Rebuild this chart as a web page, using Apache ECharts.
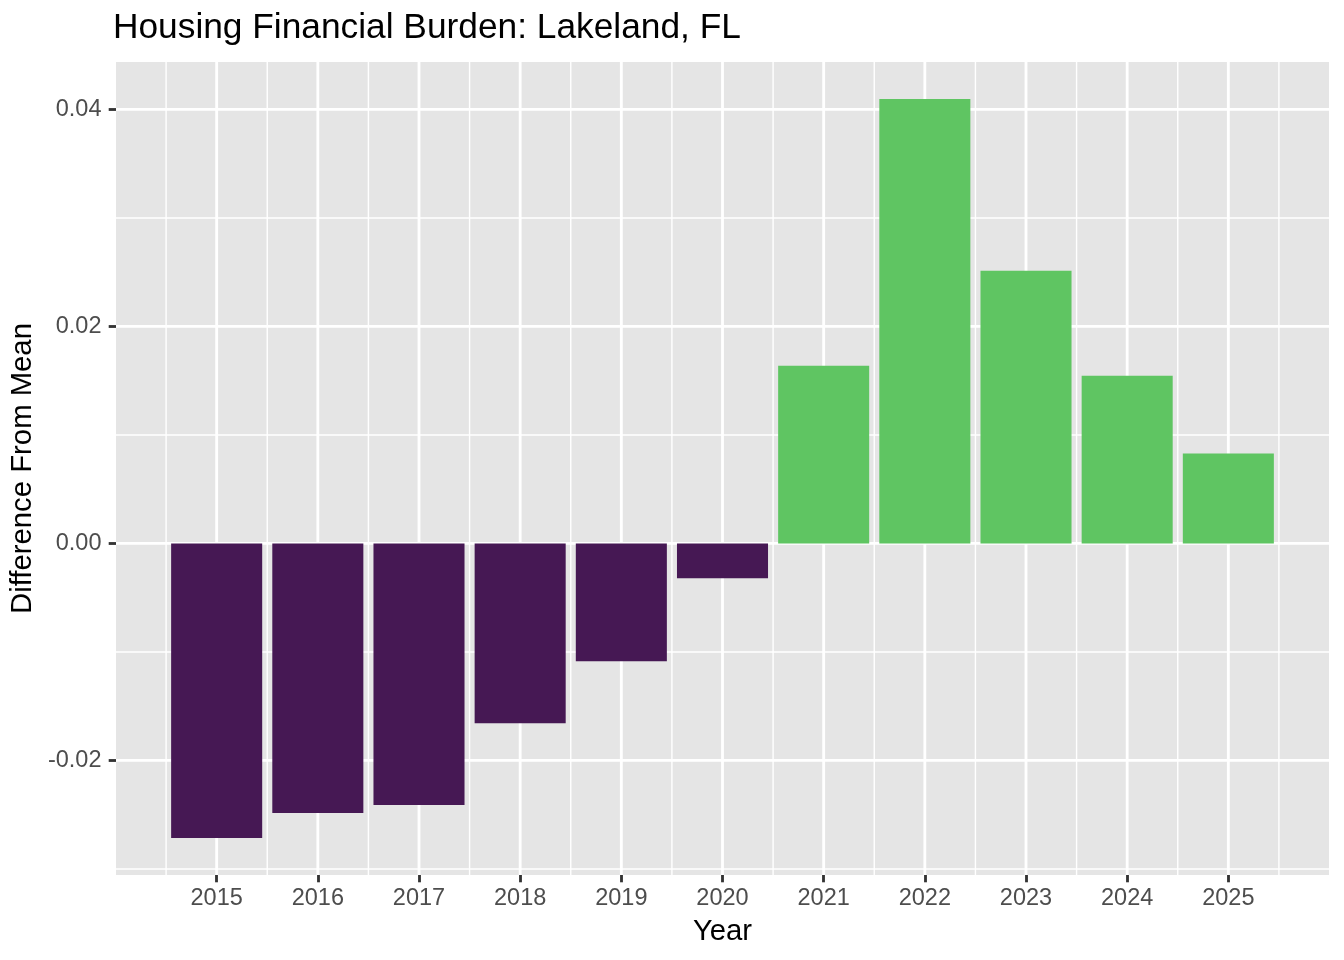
<!DOCTYPE html>
<html>
<head>
<meta charset="utf-8">
<script src="https://cdn.jsdelivr.net/npm/echarts@6/dist/echarts.min.js"></script>
<style>
html,body{margin:0;padding:0;background:#fff;}
#chart{width:1344px;height:960px;}
</style>
</head>
<body>
<div id="chart"></div>
<script>
// ---- data ----
const years = [2015, 2016, 2017, 2018, 2019, 2020, 2021, 2022, 2023, 2024, 2025];
const values = [-0.02715, -0.02485, -0.02411, -0.01657, -0.01086, -0.00322, 0.01638, 0.04096, 0.02513, 0.01546, 0.00828];
const yTickValues = [-0.02, 0, 0.02, 0.04];
const yTickLabels = ['-0.02', '0.00', '0.02', '0.04'];
const yMinorValues = [-0.03, -0.01, 0.01, 0.03];
const xMinorValues = [2014.5, 2015.5, 2016.5, 2017.5, 2018.5, 2019.5, 2020.5, 2021.5, 2022.5, 2023.5, 2024.5, 2025.5];

const FONT = "'Liberation Sans', Arial, Helvetica, sans-serif";
const PURPLE = '#461854';
const GREEN = '#5FC562';
const MAJOR_W = 2.84;
const MINOR_W = 1.42;

const chart = echarts.init(document.getElementById('chart'), null, {renderer: 'canvas'});

function vLine(width) {
  return function (params, api) {
    const cs = params.coordSys;
    const px = api.coord([api.value(0), 0])[0];
    return {
      type: 'line',
      shape: {x1: px, y1: cs.y, x2: px, y2: cs.y + cs.height},
      style: {stroke: '#FFFFFF', lineWidth: width},
      silent: true
    };
  };
}
function hLine(width) {
  return function (params, api) {
    const cs = params.coordSys;
    const py = api.coord([2020, api.value(1)])[1];
    return {
      type: 'line',
      shape: {x1: cs.x, y1: py, x2: cs.x + cs.width, y2: py},
      style: {stroke: '#FFFFFF', lineWidth: width},
      silent: true
    };
  };
}

const option = {
  backgroundColor: '#FFFFFF',
  animation: false,
  title: {
    text: 'Housing Financial Burden: Lakeland, FL',
    left: 113,
    top: 11,
    padding: 0,
    textStyle: {fontFamily: FONT, fontSize: 35.3, fontWeight: 'normal', color: '#000000'}
  },
  grid: {
    left: 116, right: 15, top: 62, bottom: 85,
    show: true, backgroundColor: '#E5E5E5', borderWidth: 0
  },
  xAxis: {
    type: 'value',
    min: 2014.005,
    max: 2025.995,
    name: 'Year',
    nameLocation: 'middle',
    nameGap: 42,
    nameTextStyle: {fontFamily: FONT, fontSize: 29.3, color: '#000000'},
    axisLine: {show: false, onZero: false},
    splitLine: {show: false},
    axisTick: {show: true, customValues: years, length: 7.3, lineStyle: {color: '#333333', width: MAJOR_W}},
    axisLabel: {
      customValues: years,
      formatter: function (v) { return String(Math.round(v)); },
      fontFamily: FONT, fontSize: 23.5, color: '#4D4D4D', margin: 12
    }
  },
  yAxis: {
    type: 'value',
    min: -0.03056,
    max: 0.04437,
    name: 'Difference From Mean',
    nameLocation: 'middle',
    nameGap: 74,
    nameTextStyle: {fontFamily: FONT, fontSize: 29.3, color: '#000000'},
    axisLine: {show: false, onZero: false},
    splitLine: {show: false},
    axisTick: {show: true, customValues: yTickValues, length: 7.3, lineStyle: {color: '#333333', width: MAJOR_W}},
    axisLabel: {
      customValues: yTickValues,
      formatter: function (v) {
        const i = yTickValues.findIndex(t => Math.abs(t - v) < 1e-9);
        return i >= 0 ? yTickLabels[i] : '';
      },
      fontFamily: FONT, fontSize: 23.5, color: '#4D4D4D', margin: 14.5
    }
  },
  series: [
    {type: 'custom', name: 'xMinor', z: 1, silent: true, renderItem: vLine(MINOR_W), data: xMinorValues.map(v => [v, 0])},
    {type: 'custom', name: 'yMinor', z: 1, silent: true, renderItem: hLine(MINOR_W), data: yMinorValues.map(v => [2020, v])},
    {type: 'custom', name: 'xMajor', z: 1, silent: true, renderItem: vLine(MAJOR_W), data: years.map(v => [v, 0])},
    {type: 'custom', name: 'yMajor', z: 1, silent: true, renderItem: hLine(MAJOR_W), data: yTickValues.map(v => [2020, v])},
    {
      type: 'custom',
      name: 'Difference',
      z: 3,
      renderItem: function (params, api) {
        const x = api.value(0), v = api.value(1);
        const p0 = api.coord([x - 0.45, 0]);
        const p1 = api.coord([x + 0.45, v]);
        return {
          type: 'rect',
          shape: {x: p0[0], y: Math.min(p0[1], p1[1]), width: p1[0] - p0[0], height: Math.abs(p1[1] - p0[1])},
          style: {fill: v < 0 ? PURPLE : GREEN}
        };
      },
      data: years.map((y, i) => [y, values[i]])
    }
  ]
};
chart.setOption(option);
</script>
</body>
</html>
